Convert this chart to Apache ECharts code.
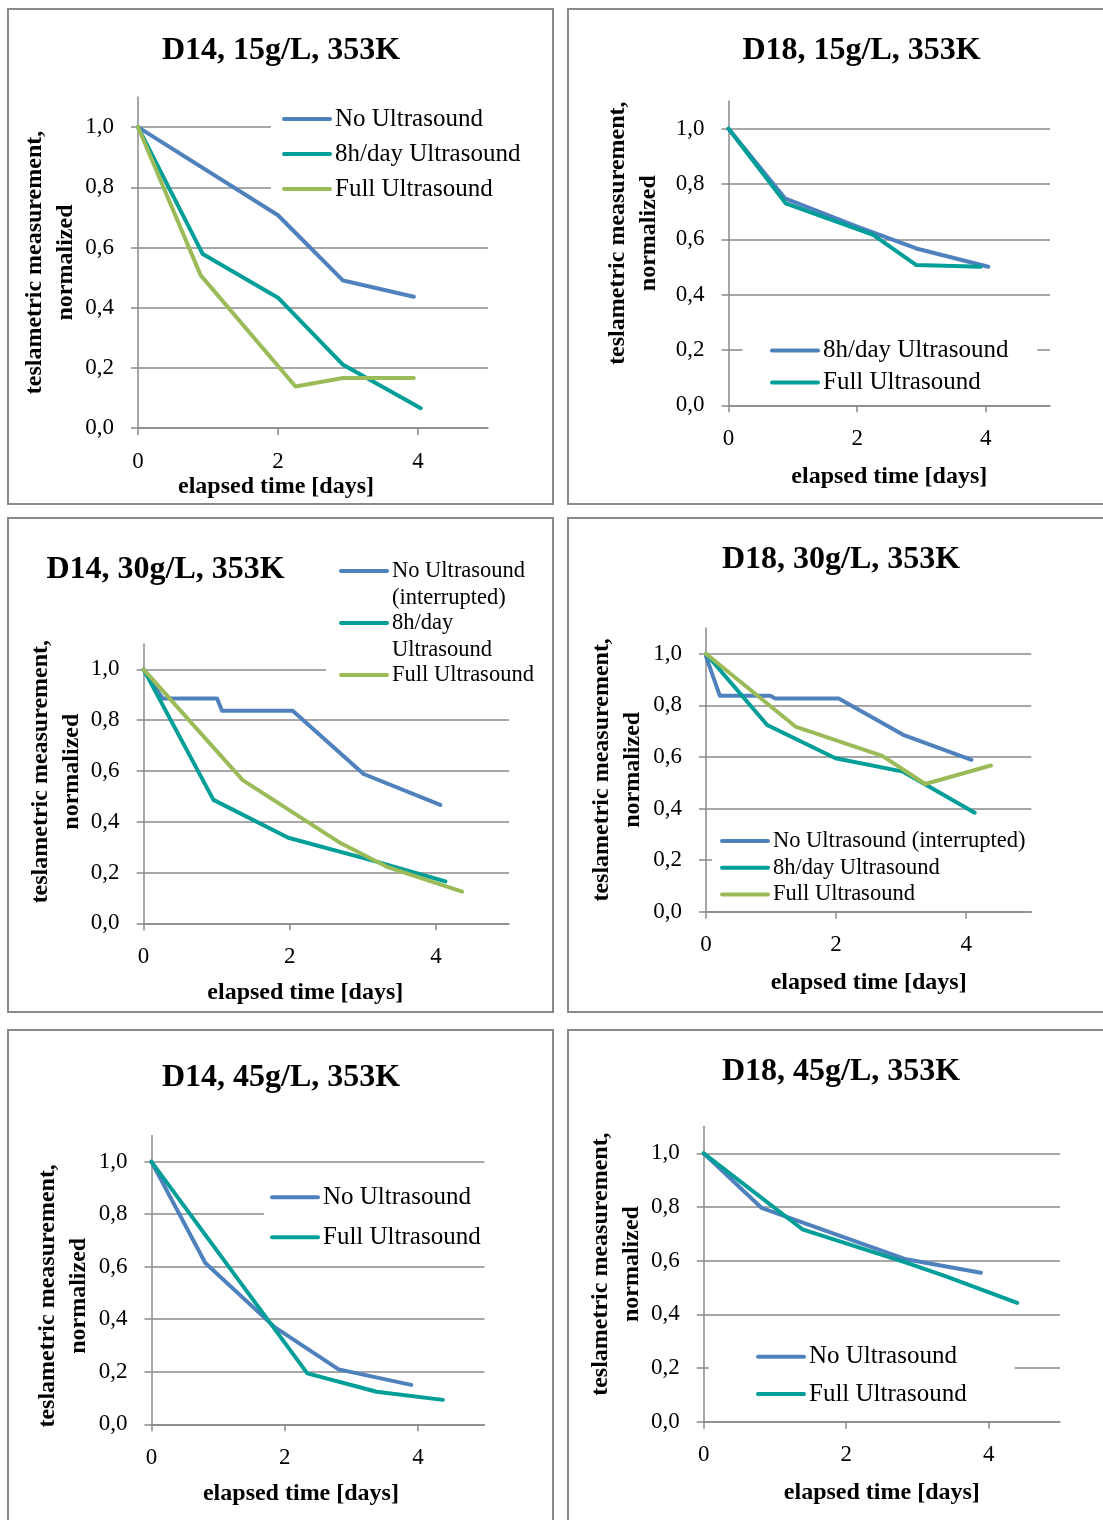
<!DOCTYPE html>
<html>
<head>
<meta charset="utf-8">
<script src="https://cdn.jsdelivr.net/npm/echarts@6/dist/echarts.min.js"></script>
<style>
html,body{margin:0;padding:0;background:#fff;}
#chart{width:1103px;height:1520px;}
</style>
</head>
<body>
<div id="chart"></div>
<script>
// ---------------- DATA ----------------
const panelTitles = ['D14, 15g/L, 353K', 'D18, 15g/L, 353K', 'D14, 30g/L, 353K',
                     'D18, 30g/L, 353K', 'D14, 45g/L, 353K', 'D18, 45g/L, 353K'];
const xTickValues = [0, 2, 4];
const yTickValues = [0, 0.2, 0.4, 0.6, 0.8, 1.0];
const xAxisTitle = 'elapsed time [days]';
const yAxisTitle = 'teslametric measurement,\nnormalized';

// D14, 15g/L
const d14_15_noUS_days = [0, 2.0, 2.93, 3.94];
const d14_15_noUS_vals = [1.0, 0.707, 0.49, 0.436];
const d14_15_8h_days = [0, 0.925, 2.0, 2.93, 4.04];
const d14_15_8h_vals = [1.0, 0.578, 0.433, 0.21, 0.066];
const d14_15_full_days = [0, 0.894, 2.25, 2.93, 3.94];
const d14_15_full_vals = [1.0, 0.508, 0.138, 0.166, 0.166];

// D18, 15g/L
const d18_15_8h_days = [0, 0.877, 2.0, 2.92, 4.04];
const d18_15_8h_vals = [1.0, 0.748, 0.646, 0.567, 0.501];
const d18_15_full_days = [0, 0.888, 2.25, 2.92, 3.92];
const d18_15_full_vals = [1.0, 0.730, 0.616, 0.507, 0.501];

// D14, 30g/L
const d14_30_noUS_days = [0, 0.26, 1.005, 1.073, 2.04, 3.01, 4.06];
const d14_30_noUS_vals = [1.0, 0.885, 0.885, 0.837, 0.837, 0.588, 0.466];
const d14_30_8h_days = [0, 0.956, 1.98, 3.1, 4.13];
const d14_30_8h_vals = [1.0, 0.486, 0.337, 0.25, 0.165];
const d14_30_full_days = [0, 1.356, 2.7, 3.35, 4.36];
const d14_30_full_vals = [1.0, 0.564, 0.315, 0.22, 0.125];

// D18, 30g/L
const d18_30_noUS_days = [0, 0.213, 0.99, 1.065, 2.04, 3.03, 4.08];
const d18_30_noUS_vals = [0.99, 0.837, 0.837, 0.827, 0.827, 0.686, 0.589];
const d18_30_8h_days = [0, 0.94, 1.99, 3.03, 4.13];
const d18_30_8h_vals = [1.0, 0.724, 0.595, 0.543, 0.384];
const d18_30_full_days = [0, 1.374, 2.71, 3.37, 4.38];
const d18_30_full_vals = [1.0, 0.718, 0.604, 0.495, 0.567];

// D14, 45g/L
const d14_45_noUS_days = [0, 0.81, 1.85, 2.81, 3.9];
const d14_45_noUS_vals = [1.0, 0.614, 0.37, 0.209, 0.15];
const d14_45_full_days = [0, 2.34, 3.38, 4.375];
const d14_45_full_vals = [1.0, 0.194, 0.124, 0.093];

// D18, 45g/L
const d18_45_noUS_days = [0, 0.81, 2.84, 3.89];
const d18_45_noUS_vals = [1.0, 0.797, 0.605, 0.555];
const d18_45_full_days = [0, 1.385, 2.84, 3.38, 4.40];
const d18_45_full_vals = [1.0, 0.717, 0.593, 0.543, 0.443];

// ---------------- STYLE / LAYOUT ----------------
const FONT = "'Liberation Serif', serif";
const GRAY = '#8a8a8a';
const BLUE = '#4F81BD';
const TEAL = '#009E98';
const GREEN = '#9BBB59';
const LINE_W = 4;

const zip = (a, b) => a.map((v, i) => [v, b[i]]);

// panel layout (pixels)
const layout = [
  {grid: [138, 97, 350, 331],     title: [281, 51],    xGap: 47,   xShift: 74, yGap: 56,   yPad: [0, 0, 0, 0],
   legend: {left: 271, top: 100.5, padding: [6, 8, 6, 11], itemGap: 10, fontSize: 25, lineHeight: 25}},
  {grid: [728.6, 101, 321.4, 304.3], title: [861.5, 51], xGap: 59, xShift: 0, yGap: 64.6, yPad: [0, 0, 0, 40],
   legend: {left: 742.5, top: 330, padding: [8, 29, 6, 27.5], itemGap: 7, fontSize: 25, lineHeight: 25}},
  {grid: [143.6, 644, 365.4, 279.3], title: [165.6, 570], xGap: 57, xShift: 42, yGap: 55, yPad: [0, 0, 0, 24],
   legend: {left: 326, top: 528.5, padding: [2, 5, 2, 13], itemGap: -29, fontSize: 22.5, lineHeight: 27}},
  {grid: [706, 628, 325.3, 283.7], title: [841, 560], xGap: 59.5, xShift: 0, yGap: 58, yPad: [0, 0, 0, 0],
   legend: {left: 712, top: 825.5, padding: [3, 10, 3, 8], itemGap: 1.7, fontSize: 22.5, lineHeight: 25}},
  {grid: [151.4, 1135.4, 333.1, 288.9], title: [281, 1077.5], xGap: 57, xShift: 34, yGap: 57.4, yPad: [0, 32, 0, 0],
   legend: {left: 264, top: 1176.8, padding: [8, 6, 8, 6], itemGap: 15, fontSize: 25, lineHeight: 25}},
  {grid: [703.7, 1126.5, 356.3, 295.2], title: [841, 1071.5], xGap: 59.5, xShift: 0, yGap: 52.7, yPad: [0, 0, 0, 20],
   legend: {left: 709, top: 1336.2, padding: [8, 48, 8, 47], itemGap: 12.3, fontSize: 25, lineHeight: 25}}
];

const borders = [
  [8, 9, 545, 495], [568, 9, 600, 495],
  [8, 518, 545, 494], [568, 518, 600, 494],
  [8, 1030, 545, 600], [568, 1030, 600, 600]
];

// series per panel: [name, days, vals, color]
const panelSeries = [
  [['No Ultrasound', d14_15_noUS_days, d14_15_noUS_vals, BLUE],
   ['8h/day Ultrasound', d14_15_8h_days, d14_15_8h_vals, TEAL],
   ['Full Ultrasound', d14_15_full_days, d14_15_full_vals, GREEN]],
  [['8h/day Ultrasound', d18_15_8h_days, d18_15_8h_vals, BLUE],
   ['Full Ultrasound', d18_15_full_days, d18_15_full_vals, TEAL]],
  [['No Ultrasound (interrupted)', d14_30_noUS_days, d14_30_noUS_vals, BLUE],
   ['8h/day Ultrasound', d14_30_8h_days, d14_30_8h_vals, TEAL],
   ['Full Ultrasound', d14_30_full_days, d14_30_full_vals, GREEN]],
  [['No Ultrasound (interrupted)', d18_30_noUS_days, d18_30_noUS_vals, BLUE],
   ['8h/day Ultrasound', d18_30_8h_days, d18_30_8h_vals, TEAL],
   ['Full Ultrasound', d18_30_full_days, d18_30_full_vals, GREEN]],
  [['No Ultrasound', d14_45_noUS_days, d14_45_noUS_vals, BLUE],
   ['Full Ultrasound', d14_45_full_days, d14_45_full_vals, TEAL]],
  [['No Ultrasound', d18_45_noUS_days, d18_45_noUS_vals, BLUE],
   ['Full Ultrasound', d18_45_full_days, d18_45_full_vals, TEAL]]
];

// wrapped legend labels for the D14 30g/L panel
const wrappedNames = {'No Ultrasound (interrupted)': 'No Ultrasound\n(interrupted)',
                      '8h/day Ultrasound': '8h/day\nUltrasound'};

// ---------------- BUILD OPTION ----------------
const grids = [], xAxes = [], yAxes = [], titles = [], legends = [], series = [];

layout.forEach((L, i) => {
  grids.push({left: L.grid[0], top: L.grid[1], width: L.grid[2], height: L.grid[3],
              containLabel: false, outerBoundsMode: 'none'});
  titles.push({text: panelTitles[i], left: L.title[0], top: L.title[1],
               textAlign: 'center', textVerticalAlign: 'middle', padding: 0,
               textStyle: {fontFamily: FONT, fontWeight: 'bold', fontSize: 32, color: '#000'}});
  xAxes.push({
    gridIndex: i, type: 'value', min: 0, max: 5, interval: 1,
    axisLine: {show: true, onZero: false, lineStyle: {color: GRAY, width: 1.5}},
    axisTick: {show: true, length: 7, customValues: xTickValues, lineStyle: {color: GRAY, width: 1.5}},
    axisLabel: {show: true, customValues: xTickValues, margin: 22, fontFamily: FONT, fontSize: 23, color: '#000',
                formatter: v => String(v)},
    splitLine: {show: false},
    name: xAxisTitle, nameLocation: 'middle', nameGap: L.xGap,
    nameTextStyle: {fontFamily: FONT, fontWeight: 'bold', fontSize: 24, color: '#000',
                    padding: [0, L.xShift, 0, 0]}
  });
  yAxes.push({
    gridIndex: i, type: 'value', min: 0, max: 1.1, interval: 0.2,
    axisLine: {show: true, lineStyle: {color: GRAY, width: 1.5}},
    axisTick: {show: true, length: 7, customValues: yTickValues, lineStyle: {color: GRAY, width: 1.5}},
    axisLabel: {show: true, customValues: yTickValues, margin: 24, fontFamily: FONT, fontSize: 23, color: '#000',
                formatter: v => v.toFixed(1).replace('.', ',')},
    splitLine: {show: true, lineStyle: {color: GRAY, width: 1.5}},
    name: yAxisTitle, nameLocation: 'middle', nameGap: L.yGap,
    nameTextStyle: {fontFamily: FONT, fontWeight: 'bold', fontSize: 24, color: '#000',
                    lineHeight: 31, padding: L.yPad}
  });

  const isWrapped = (i === 2);
  const lh = L.legend.lineHeight;
  const lg = {
    orient: 'vertical', left: L.legend.left, top: L.legend.top,
    padding: L.legend.padding, itemGap: L.legend.itemGap,
    itemWidth: 46, itemHeight: 14, backgroundColor: '#fff',
    selectedMode: false,
    textStyle: {fontFamily: FONT, fontSize: L.legend.fontSize, color: '#000', lineHeight: lh},
    data: panelSeries[i].map(s => {
      const item = {
        name: s[0],
        lineStyle: {color: s[3], width: LINE_W, cap: 'round', opacity: 1},
        itemStyle: {color: 'rgba(0,0,0,0)', borderWidth: 0, opacity: 0}
      };
      if (isWrapped && !wrappedNames[s[0]]) {
        item.textStyle = {padding: [lh, 0, lh, 0]};
      }
      return item;
    })
  };
  // a leading empty line keeps the first text line level with the legend line
  if (isWrapped) lg.formatter = n => (wrappedNames[n] ? '\n' + wrappedNames[n] : n);
  legends.push(lg);

  panelSeries[i].forEach(s => {
    series.push({
      type: 'line', name: s[0], xAxisIndex: i, yAxisIndex: i,
      data: zip(s[1], s[2]), symbol: 'none', showSymbol: false, color: s[3],
      lineStyle: {color: s[3], width: LINE_W, cap: 'round', join: 'round'},
      itemStyle: {color: s[3]}, emphasis: {disabled: true}
    });
  });
});

const graphics = borders.map(b => ({
  type: 'rect', silent: true, z: 0,
  shape: {x: b[0], y: b[1], width: b[2], height: b[3]},
  style: {fill: null, stroke: GRAY, lineWidth: 2}
}));

const chart = echarts.init(document.getElementById('chart'), null, {renderer: 'canvas'});
chart.setOption({
  backgroundColor: '#fff',
  animation: false,
  title: titles,
  grid: grids,
  xAxis: xAxes,
  yAxis: yAxes,
  legend: legends,
  series: series,
  graphic: graphics
});
</script>
</body>
</html>
